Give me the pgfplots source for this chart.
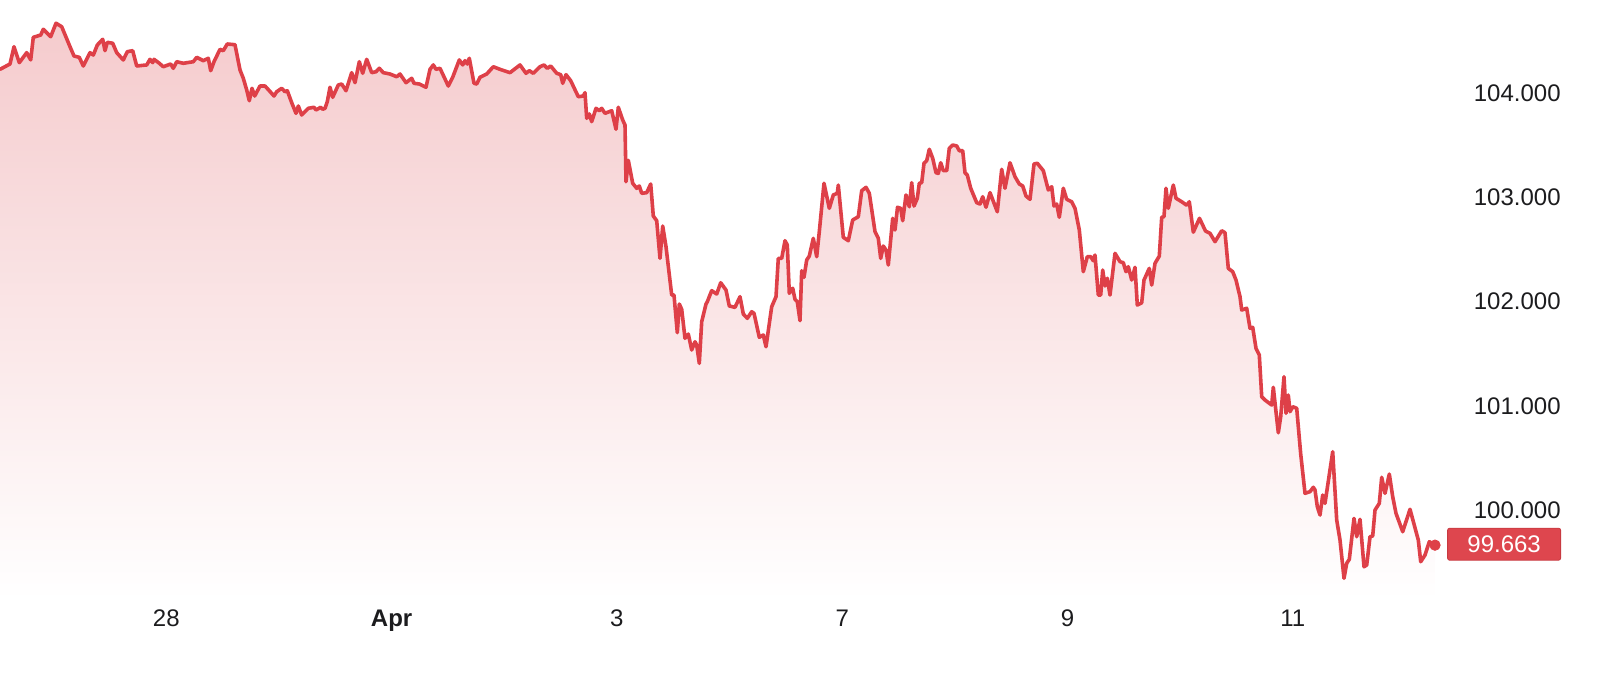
\documentclass[border=0pt]{standalone}
\usepackage{fontspec}
\setmainfont{Liberation Sans}
\usepackage{pgfplots}
\usepackage{pgfplotstable}
\pgfplotsset{compat=1.18}

\definecolor{lineRed}{RGB}{222,64,72}
\definecolor{fillTop}{RGB}{245,203,205}
\definecolor{boxRed}{RGB}{222,70,78}
\definecolor{tickGray}{RGB}{28,28,30}

% x: position along the time axis (trading time, 225.3 units per two days)
\pgfplotstableread{
x y
0 104.227
10 104.278
14 104.444
19.3 104.291
26.7 104.387
30.7 104.317
33.3 104.534
40.7 104.556
43.3 104.611
50.7 104.540
56 104.669
61.7 104.636
70 104.444
74 104.355
79.3 104.342
83.3 104.259
90 104.387
93.3 104.364
97.3 104.460
102.7 104.515
105 104.406
107.3 104.486
112.7 104.477
116.7 104.387
123.3 104.317
127.3 104.396
132.7 104.406
136.7 104.259
146.7 104.269
150 104.323
152.7 104.291
154 104.323
159.3 104.285
163.3 104.252
170.7 104.278
173.3 104.237
176.7 104.300
183.3 104.285
193.3 104.300
196.7 104.342
203.3 104.310
208.3 104.333
210.7 104.214
214 104.300
220 104.419
223.3 104.406
227.3 104.470
235 104.463
240 104.221
243.3 104.141
246.7 104.029
249.3 103.926
252 104.045
254.7 103.971
260 104.067
265 104.067
269.3 104.022
274 103.971
276.7 104.012
281.7 104.045
285 104.012
287.3 104.022
291.7 103.907
296 103.805
298.3 103.875
301.7 103.789
308.3 103.853
314 103.863
316 103.837
320.7 103.863
322.7 103.844
325 103.853
327.3 103.917
330 104.055
332.7 103.959
338.3 104.077
341.7 104.086
346 104.022
351.7 104.195
355 104.099
359.3 104.300
362.7 104.189
366.7 104.323
371.7 104.195
376 104.204
379.3 104.237
383.3 104.195
390 104.182
396.7 104.156
400 104.182
406 104.099
411.7 104.141
414 104.093
419.3 104.086
426 104.055
430 104.227
433.3 104.269
436 104.227
440 104.237
448.3 104.067
452.7 104.151
459.3 104.317
462.7 104.269
465 104.310
467.3 104.278
469.3 104.333
474 104.093
476.7 104.086
480 104.151
486.7 104.182
493.3 104.252
500 104.227
510 104.195
520 104.269
526 104.189
529.3 104.214
533.3 104.189
540 104.252
544 104.269
547.3 104.237
550.7 104.259
556.7 104.189
560.7 104.176
562.7 104.093
566 104.176
570.7 104.118
578.3 103.964
583.3 103.971
585 104.003
586.7 103.757
589.3 103.799
591.7 103.725
596 103.853
599.3 103.830
601.7 103.853
605 103.805
611.7 103.830
616 103.652
618.3 103.863
622.7 103.741
625 103.693
626 103.149
628.3 103.354
632.7 103.134
636.7 103.086
639.3 103.108
641.7 103.038
646.7 103.044
650.7 103.127
653.3 102.820
656.7 102.775
660 102.414
662.7 102.724
666 102.526
671.7 102.062
674 102.062
677.3 101.701
679.3 101.976
681.7 101.925
685 101.647
688.3 101.688
691.7 101.535
695 101.614
696.7 101.583
699.3 101.407
701.7 101.806
706 101.976
707.3 101.998
711.7 102.104
716.7 102.072
720.7 102.180
726 102.110
729.3 101.957
735 101.944
740 102.046
743.3 101.880
747.3 101.839
751.7 101.902
754 101.887
759.3 101.657
763.3 101.679
766 101.566
771.7 101.950
776 102.046
778.3 102.414
781.7 102.414
785 102.583
787.3 102.542
789.3 102.079
792.7 102.127
795 102.021
797.3 101.998
800 101.816
801.7 102.295
804 102.232
806.7 102.398
809.3 102.436
813.3 102.606
816.7 102.430
819.3 102.670
824 103.134
829.3 102.894
833.3 103.022
837.3 103.038
838.3 103.117
843.3 102.616
848.3 102.583
852.7 102.782
858.3 102.813
861.7 103.063
866 103.095
869.3 103.038
875 102.670
878.3 102.606
880.7 102.414
883.3 102.532
886 102.494
888.3 102.350
892.7 102.798
895 102.686
897.5 102.904
900.7 102.894
902.7 102.775
906 103.022
909.3 102.909
911.7 103.140
914 102.916
917.3 102.990
919.3 103.134
921.7 103.140
924 103.326
926.7 103.351
929.3 103.460
932.7 103.374
936 103.235
938.3 103.229
940.7 103.331
943.3 103.255
946.7 103.255
949.3 103.470
952.7 103.501
956.7 103.492
959.3 103.446
962.7 103.446
965 103.235
967.3 103.213
970.7 103.086
976.7 102.948
980 102.935
982.7 103.005
986 102.904
990 103.044
997.3 102.861
1001.7 103.268
1005 103.086
1010 103.331
1015 103.197
1019.3 103.127
1022.7 103.108
1026 103.012
1030 102.980
1034 103.319
1037.3 103.326
1043.3 103.255
1048.3 103.070
1051.7 103.101
1054 102.916
1056.7 102.935
1059.3 102.808
1063.3 103.086
1066.7 102.980
1071.7 102.957
1075 102.894
1079.3 102.686
1083.3 102.286
1087.3 102.430
1090.7 102.430
1093.3 102.391
1095 102.446
1098.3 102.062
1100.7 102.062
1102.7 102.302
1105 102.149
1107.3 102.223
1110 102.062
1115 102.462
1120 102.382
1123.3 102.372
1126 102.286
1128.3 102.334
1131.7 102.206
1135 102.328
1137.3 101.966
1141.7 101.988
1144 102.206
1149.3 102.318
1151.7 102.158
1155 102.366
1159.3 102.436
1161.7 102.808
1164 102.814
1166 103.086
1168.3 102.894
1173.3 103.117
1176 102.990
1181.7 102.957
1186.7 102.923
1189.3 102.957
1193.3 102.665
1199.5 102.798
1205.5 102.676
1210 102.654
1215 102.574
1221.7 102.679
1225 102.660
1228.3 102.318
1232.7 102.286
1236 102.206
1240 102.046
1241.7 101.918
1246.7 101.935
1250 101.743
1252.7 101.752
1256 101.551
1259.3 101.487
1261.7 101.087
1265 101.055
1271.7 101.007
1273.3 101.177
1278.3 100.741
1280.7 100.895
1284 101.279
1286 100.928
1288.3 101.103
1290 100.943
1292.7 100.991
1296.7 100.976
1300.7 100.537
1305 100.160
1310 100.176
1313.3 100.218
1315 100.192
1317.3 100.032
1320 99.952
1322.7 100.144
1325 100.064
1332.7 100.559
1336.7 99.904
1340 99.712
1344 99.345
1346.7 99.489
1349.3 99.527
1354 99.920
1356.7 99.744
1360 99.911
1364 99.456
1366.7 99.472
1370 99.744
1372.7 99.751
1375 100.000
1379.3 100.064
1381.7 100.314
1385 100.160
1389.3 100.345
1392.7 100.128
1396 99.968
1402.7 99.792
1410 100.007
1418.3 99.712
1420.7 99.504
1425 99.568
1429.3 99.696
1435 99.663
}\pricedata

\begin{document}
\begin{tikzpicture}
\useasboundingbox (0,0) rectangle (800bp,346bp);
\begin{axis}[
  at={(0,46bp)}, anchor=south west,
  scale only axis, width=800bp, height=300bp,
  xmin=0, xmax=1600, ymin=99.137, ymax=104.892,
  axis x line*=bottom, axis y line*=right,
  axis line style={draw=none},
  major tick length=0pt, tick style={draw=none},
  xtick={166.3,391.6,616.9,842.2,1067.5,1292.8},
  xticklabels={28,\textbf{Apr},3,7,9,11},
  ytick={100,101,102,103,104},
  yticklabels={100.000,101.000,102.000,103.000,104.000},
  tick label style={font=\fontsize{12bp}{14bp}\selectfont, text=tickGray, inner sep=0pt},
  xticklabel style={anchor=base, yshift=-13bp},
  yticklabel style={anchor=east, xshift=-19.5bp},
  clip=false,
]
  % soft gradient area under the price line
  \addplot[draw=none, shade, top color=fillTop, bottom color=white]
    table[x=x, y=y] {\pricedata}
    -- (axis cs:1435,99.137) -- (axis cs:0,99.137) -- cycle;
  \addplot[lineRed, line width=1.8bp, line join=round, line cap=round] table[x=x, y=y] {\pricedata};
  \addplot[only marks, mark=*, mark size=2.6bp, lineRed] coordinates {(1435,99.663)};
  \node[fill=boxRed, draw=lineRed!90!black, line width=0.4bp, text=white, anchor=east,
        minimum width=56.5bp, minimum height=16bp,
        inner sep=0pt, rounded corners=1bp, font=\fontsize{12bp}{14bp}\selectfont]
        at (axis cs:1561,99.672) {99.663};
\end{axis}
\end{tikzpicture}
\end{document}
